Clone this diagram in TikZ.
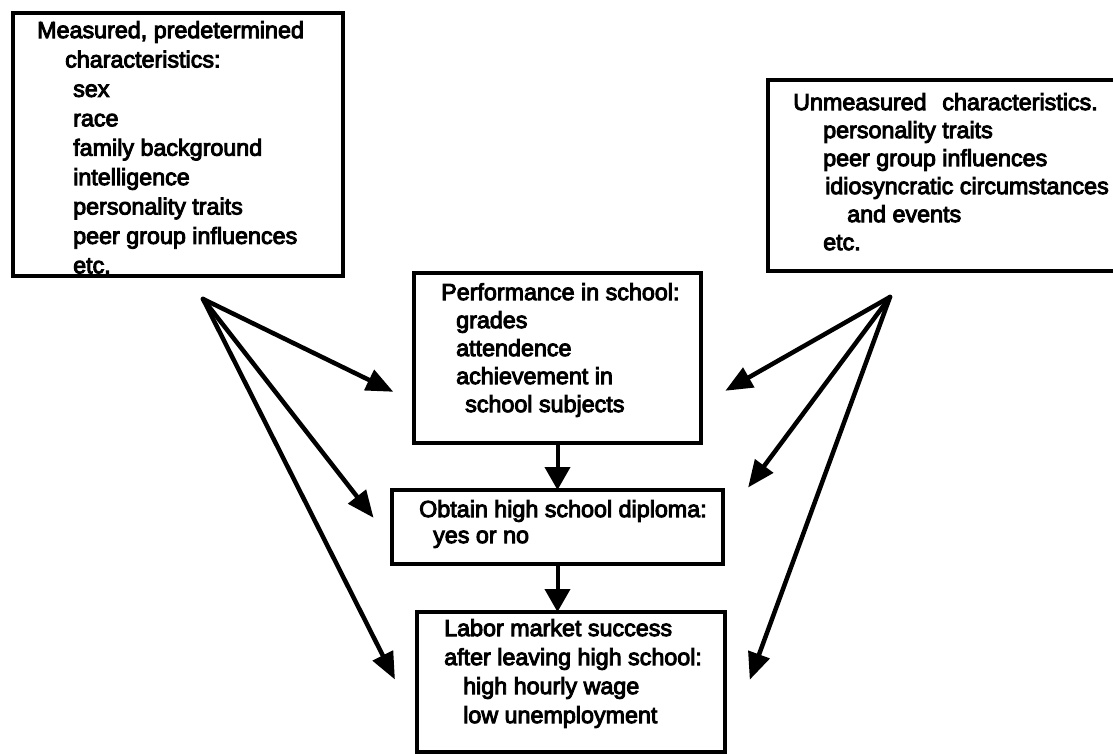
\documentclass[tikz,border=0pt]{standalone}
\usepackage{fontspec}
\newfontfamily\diagfont{Liberation Sans}[FakeBold=4]
\usetikzlibrary{arrows.meta}

\begin{document}
\begin{tikzpicture}[x=1pt, y=-1pt, every node/.style={align=left}]
        \tikzstyle{box}=[rectangle, draw, line width=3.5pt, outer sep=0pt, inner sep=0pt, anchor=north west];
        \tikzstyle{txt}=[anchor=north west, inner sep=0pt, font=\diagfont\fontsize{23.3}{29}\selectfont];
        \tikzstyle{fan}=[-{Triangle[length=27pt, width=22pt]}, line width=4.5pt, line cap=round];
        \tikzstyle{edge}=[-{Triangle[length=23pt, width=25pt]}, line width=4pt];
        \useasboundingbox (0,0) rectangle (1113,753);
        % boxes
        \node[box, minimum width=330pt, minimum height=263pt] (meas) at (13,13) {};
        \node[box, minimum width=360pt, minimum height=191pt] (unmeas) at (768,80) {};
        \node[box, minimum width=287pt, minimum height=170pt] (perf) at (414,273) {};
        \node[box, minimum width=331pt, minimum height=74pt] (obtain) at (392,490) {};
        \node[box, minimum width=308pt, minimum height=140pt] (labor) at (417,612) {};
        % texts
        \node[txt, font=\diagfont\fontsize{23.3}{29.4}\selectfont] (measText) at ([shift={(24,8)}]meas.north west)
            {Measured, predetermined\\
             \hspace*{28pt}characteristics:\\
             \hspace*{36pt}sex\\
             \hspace*{36pt}race\\
             \hspace*{36pt}family background\\
             \hspace*{36pt}intelligence\\
             \hspace*{36pt}personality traits\\
             \hspace*{36pt}peer group influences\\
             \hspace*{36pt}etc.};
        \node[txt, font=\diagfont\fontsize{23.3}{28}\selectfont] (unmeasText) at ([shift={(25,13)}]unmeas.north west)
            {Unmeasured\hspace{0.4em} characteristics.\\
             \hspace*{30pt}personality traits\\
             \hspace*{30pt}peer group influences\\
             \hspace*{32pt}idiosyncratic circumstances\\
             \hspace*{54pt}and events\\
             \hspace*{30pt}etc.};
        \node[txt, font=\diagfont\fontsize{23.3}{28}\selectfont] (perfText) at ([shift={(27,10)}]perf.north west)
            {Performance in school:\\
             \hspace*{15pt}grades\\
             \hspace*{15pt}attendence\\
             \hspace*{15pt}achievement in\\
             \hspace*{24pt}school subjects};
        \node[txt, font=\diagfont\fontsize{23.3}{26}\selectfont] (obtainText) at ([shift={(27,10)}]obtain.north west)
            {Obtain high school diploma:\\
             \hspace*{14pt}yes or no};
        \node[txt] (laborText) at ([shift={(27,7)}]labor.north west)
            {Labor market success\\
             after leaving high school:\\
             \hspace*{19pt}high hourly wage\\
             \hspace*{19pt}low unemployment};
        % fans
        \coordinate (measFan) at ([shift={(25,23)}]meas.south);
        \coordinate (unmeasFan) at ([shift={(122,26)}]unmeas.south west);
        \draw[fan, shorten >=23pt] (measFan) -- (perf.197);
        \draw[fan, shorten >=30pt] (measFan) -- (obtain.185);
        \draw[fan, shorten >=49pt] (measFan) -- (labor.195);
        \draw[fan, shorten >=28pt] (unmeasFan) -- (perf.342);
        \draw[fan, shorten >=42pt] (unmeasFan) -- (obtain.2);
        \draw[fan, shorten >=72pt] (unmeasFan) -- (labor.337);
        % chain
        \draw[edge] (perf.south) -- (obtain.north);
        \draw[edge] (obtain.south) -- (obtain.south |- labor.north);
    \end{tikzpicture}
\end{document}
